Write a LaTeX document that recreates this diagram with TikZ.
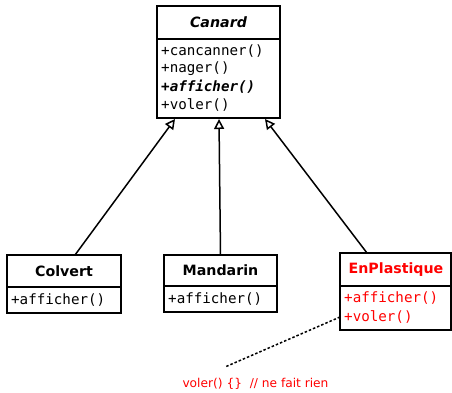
\documentclass[tikz,border=0pt]{standalone}
\usepackage{fontspec}
\setmainfont{DejaVu Sans}
\newfontfamily\monof{DejaVu Sans Mono}
\usetikzlibrary{arrows.meta}
\definecolor{umlred}{RGB}{255,0,0}
\tikzset{
  box/.style={draw, line width=1.5pt, anchor=north west, inner sep=0pt, outer sep=0pt},
  ttl/.style={font=\fontsize{14.2}{16}\selectfont\bfseries, inner sep=0pt},
  meth/.style={font=\fontsize{14.2}{16}\monof, anchor=west, inner sep=0pt},
  inh/.style={line width=1.5pt, -{Triangle[open, length=10pt, width=10pt]}},
  note/.style={font=\fontsize{12.2}{14}\selectfont, text=umlred, inner sep=0pt},
}
\begin{document}
\begin{tikzpicture}[x=1pt,y=-1pt]
\useasboundingbox (0,0) rectangle (452,392);
% Canard
\node[box, minimum width=123pt, minimum height=33pt] (canardT) at (157,6) {};
\node[box, minimum width=123pt, minimum height=79pt] (canardM) at (157,39) {};
\node[ttl] (canardN) at (218.5,22.5) {\itshape Canard};
\node[meth] (c1) at (161,51) {+cancanner()};
\node[meth] (c2) at (161,69) {+nager()};
\node[meth] (c3) at (161,87) {\bfseries\itshape +afficher()};
\node[meth] (c4) at (161,105) {+voler()};
% Colvert
\node[box, minimum width=114pt, minimum height=32pt] (colT) at (7,255) {};
\node[box, minimum width=114pt, minimum height=26pt] (colM) at (7,287) {};
\node[ttl] (colN) at (64,271) {Colvert};
\node[meth] (col1) at (11,300) {+afficher()};
% Mandarin
\node[box, minimum width=113pt, minimum height=31pt] (manT) at (164,255) {};
\node[box, minimum width=113pt, minimum height=26pt] (manM) at (164,286) {};
\node[ttl] (manN) at (220.5,270.5) {Mandarin};
\node[meth] (man1) at (168,299) {+afficher()};
% EnPlastique
\node[box, minimum width=111pt, minimum height=33pt] (plaT) at (340,253) {};
\node[box, minimum width=111pt, minimum height=44pt] (plaM) at (340,286) {};
\node[ttl, text=umlred] (plaN) at (396,269.5) {EnPlastique};
\node[meth, text=umlred] (pla1) at (344,298) {+afficher()};
\node[meth, text=umlred] (pla2) at (344,317) {+voler()};
% inheritance
\draw[inh] ([xshift=11pt]colT.north) -- ([xshift=-43.5pt, yshift=-1pt]canardM.south);
\draw[inh] ([xshift=0pt]manT.north) -- ([xshift=0.5pt, yshift=-1pt]canardM.south);
\draw[inh] ([xshift=-28.5pt]plaT.north) -- ([xshift=46.5pt, yshift=-1pt]canardM.south);
% note
\coordinate (noteEnd) at (225,367);
\draw[line width=1.5pt, dash pattern=on 2.5pt off 2pt] (plaM.west |- pla2) -- (noteEnd);
\node[note] (noteT) at (255.5,384) {voler() \{\}\ \ // ne fait rien};
\end{tikzpicture}
\end{document}
